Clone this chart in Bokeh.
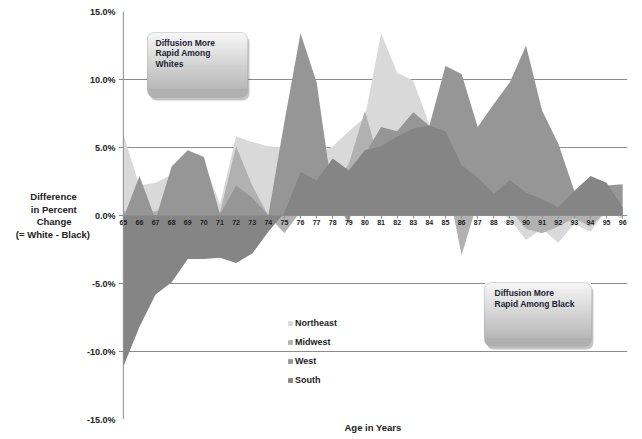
from bokeh.plotting import figure
from bokeh.models import (FixedTicker, PrintfTickFormatter, Legend, LegendItem,
                          Label, BoxAnnotation, ColumnDataSource, LinearAxis, Span)
from bokeh.embed import file_html
from bokeh.resources import INLINE

# ---------------- data ----------------
ages = list(range(65, 97))
northeast = [6.0, 2.2, 2.4, 3.0, 3.8, 4.0, 0.8, 5.8, 5.4, 5.1, 5.0, 6.0, 4.5, 5.1, 6.2, 7.2,
             13.4, 10.5, 9.9, 6.7, 5.0, 3.0, 2.5, 0.5, -0.3, -1.8, -1.0, -2.0, -0.6, -1.2, 0.4, -0.3]
midwest = [0.3, 0.5, 0.3, 1.0, 1.5, 1.0, 0.2, 5.1, 2.2, 0.0, -1.3, 0.3, 1.5, 2.0, 3.8, 7.7,
           3.5, 4.5, 5.0, 4.5, 3.0, -2.9, 1.0, 1.0, 0.5, -1.0, -1.3, -0.8, -0.2, -0.8, 0.3, 0.0]
west = [-0.2, 2.9, -0.3, 3.6, 4.8, 4.3, 0.1, 2.2, 1.3, 0.0, 6.9, 13.4, 9.8, 1.5, -0.6, 4.5,
        6.5, 6.2, 7.6, 6.6, 11.0, 10.4, 6.5, 8.2, 9.8, 12.5, 7.7, 5.3, 1.8, 2.5, 2.2, 2.3]
south = [-11.1, -8.2, -5.8, -4.9, -3.2, -3.2, -3.1, -3.5, -2.8, -1.2, 0.2, 3.2, 2.6, 4.2, 3.3, 4.8,
         5.1, 5.8, 6.4, 6.6, 6.2, 3.7, 2.8, 1.6, 2.6, 1.7, 1.2, 0.6, 1.8, 2.9, 2.4, 0.6]
series_names = ["Northeast", "Midwest", "West", "South"]
series_colors = ["#d9d9d9", "#b1b1b1", "#969696", "#858585"]
y_ticks = [-15, -10, -5, 0, 5, 10, 15]
y_title_lines = ["Difference", "in Percent", "Change", "(= White - Black)"]
x_title = "Age in Years"
note_top = ["Diffusion More", "Rapid Among", "Whites"]
note_bottom = ["Diffusion More", "Rapid Among Black"]

FONT = "Liberation Sans"
TXT = "#222222"
GRID = "#8c8c8c"

# approximate Liberation Sans Bold advance widths (per 1000 em) to centre the
# lines of the right-aligned horizontal axis title with no-break spaces
_W = {"D": 722, "i": 278, "f": 333, "e": 556, "r": 389, "n": 611, "c": 556, " ": 278,
      "P": 667, "t": 333, "C": 722, "h": 611, "a": 556, "g": 611, "(": 333, "=": 584,
      "W": 944, "-": 333, "B": 722, "l": 278, "k": 556, ")": 333}
def _width(s):
    return sum(_W.get(ch, 556) for ch in s)
_maxw = max(_width(s) for s in y_title_lines)
y_title = "\n".join(s + "\u00a0" * int(round((_maxw - _width(s)) / 2 / 278)) for s in y_title_lines)

idx = list(range(len(ages)))
src = ColumnDataSource(dict(x=idx, Northeast=northeast, Midwest=midwest, West=west, South=south))

PAD = 0.3
X0, X1 = -PAD, len(ages) - 1 + PAD
W, H = 640, 437
FL, FT = 118, 11
FR = W - 627
FB = H - 419
p = figure(width=W, height=H, x_range=(X0, X1), y_range=(-15, 15),
           output_backend="svg", toolbar_location=None,
           min_border_left=FL, min_border_top=FT, min_border_right=FR, min_border_bottom=FB)
p.outline_line_color = None
p.background_fill_color = "white"
p.border_fill_color = "white"
p.xgrid.visible = False
p.ygrid.ticker = FixedTicker(ticks=y_ticks)
p.ygrid.grid_line_color = GRID
p.ygrid.grid_line_width = 1
p.ygrid.bounds = (0, len(ages) - 1)

fw = W - FL - FR
fh = H - FT - FB
def dx(sx):  # page px -> data x
    return X0 + (sx - FL) * (X1 - X0) / fw
def dy(sy):  # page px -> data y
    return 15 - (sy - FT) * 30.0 / fh

renderers = []
for name, col in zip(series_names, series_colors):
    r = p.varea(x="x", y1=0, y2=name, source=src, fill_color=col, fill_alpha=1)
    renderers.append(r)

# vertical axis line at the first category
p.add_layout(Span(location=0, dimension="height", line_color=GRID, line_width=1))

# x axis crossing at zero
xa = p.xaxis[0]
xa.ticker = FixedTicker(ticks=idx)
xa.major_label_overrides = {i: str(a) for i, a in zip(idx, ages)}
xa.fixed_location = 0
xa.bounds = (0, len(ages) - 1)
xa.axis_line_color = GRID
xa.major_tick_line_color = GRID
xa.major_tick_out = 3
xa.major_tick_in = 0
xa.minor_tick_line_color = None
xa.major_label_standoff = 1
xa.major_label_text_font = FONT
xa.major_label_text_font_size = "7px"
xa.major_label_text_font_style = "bold"
xa.major_label_text_color = TXT

# second bottom axis only for the title
xt = LinearAxis(ticker=FixedTicker(ticks=[]), axis_line_color=None,
                major_tick_line_color=None, minor_tick_line_color=None,
                axis_label=x_title, axis_label_standoff=2,
                axis_label_text_font=FONT, axis_label_text_font_size="9.5px",
                axis_label_text_font_style="bold", axis_label_text_color=TXT)
p.add_layout(xt, "below")

ya = p.yaxis[0]
ya.ticker = FixedTicker(ticks=y_ticks)
ya.formatter = PrintfTickFormatter(format="%.1f%%")
ya.axis_line_color = None
ya.major_tick_line_color = None
ya.major_tick_out = 0
ya.major_tick_in = 0
ya.minor_tick_line_color = None
ya.major_label_standoff = 3
ya.major_label_text_font = FONT
ya.major_label_text_font_size = "9px"
ya.major_label_text_font_style = "bold"
ya.major_label_text_color = TXT
ya.axis_label = y_title
ya.axis_label_orientation = "horizontal"
ya.axis_label_standoff = -6
ya.axis_label_text_font = FONT
ya.axis_label_text_font_size = "9.5px"
ya.axis_label_text_font_style = "bold"
ya.axis_label_text_color = TXT
ya.axis_label_text_line_height = 1.15

# legend
legend = Legend(items=[LegendItem(label=n, renderers=[r]) for n, r in zip(series_names, renderers)],
                location=(169, 34), orientation="vertical",
                glyph_width=6, glyph_height=6, label_standoff=2, label_height=10,
                spacing=9, padding=0, margin=0,
                border_line_color=None, background_fill_alpha=0,
                label_text_font=FONT, label_text_font_size="9px",
                label_text_font_style="bold", label_text_color=TXT)
p.add_layout(legend)

# notes (rounded grey boxes with a vertical shading)
def note_box(l, r, t, b, lines, tx, ty0, step):
    rad = 7
    p.add_layout(BoxAnnotation(left=dx(l + 2), right=dx(r + 2), top=dy(t + 3), bottom=dy(b + 3),
                               fill_color="#555555", fill_alpha=0.35, line_color=None,
                               border_radius=rad))
    n = 30
    h = b - t
    top_c = (0xf6, 0xf6, 0xf6)
    bot_c = (0xb0, 0xb0, 0xb0)
    for k in range(n):
        bb = b - k * h / n
        if 0 < k and (b - bb) < rad + 1:
            continue
        f = k / (n - 1)
        c = tuple(int(bot_c[i] + (top_c[i] - bot_c[i]) * f) for i in range(3))
        col = "#%02x%02x%02x" % c
        br = rad if k == 0 else (rad, rad, 0, 0)
        p.add_layout(BoxAnnotation(left=dx(l), right=dx(r), top=dy(t), bottom=dy(bb),
                                   fill_color=col, fill_alpha=1, line_color=None,
                                   border_radius=br))
    p.add_layout(BoxAnnotation(left=dx(l), right=dx(r), top=dy(t), bottom=dy(b),
                               fill_alpha=0, line_color="#9a9a9a", line_width=1,
                               border_radius=rad))
    for j, s in enumerate(lines):
        p.add_layout(Label(x=dx(tx), y=dy(ty0 + j * step), text=s, text_align="left",
                           text_baseline="middle", text_font=FONT, text_font_size="8.5px",
                           text_font_style="bold", text_color="#1c2333"))

note_box(147, 247, 32, 97, note_top, 155, 42, 10.5)
note_box(484, 591, 282, 346, note_bottom, 494, 292, 11)

open("out.html", "w").write(file_html(p, INLINE))
